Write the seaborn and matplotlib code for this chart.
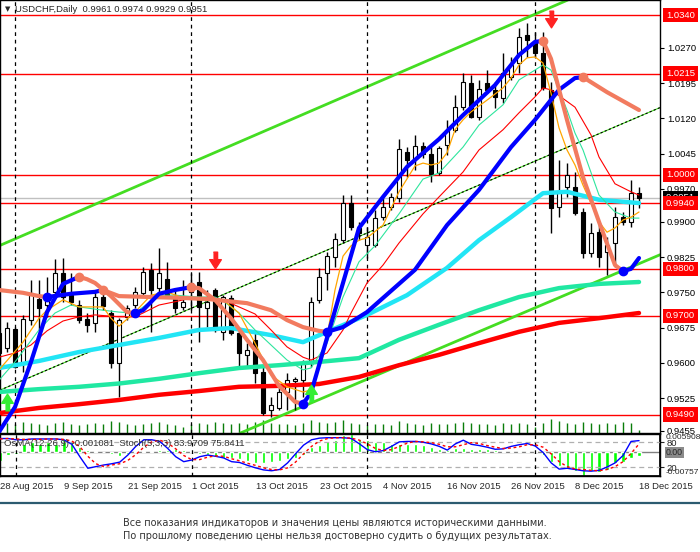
import matplotlib
matplotlib.use("Agg")
import matplotlib.pyplot as plt
import matplotlib.transforms as mtransforms
from matplotlib.lines import Line2D
import numpy as np
import pandas as pd
import seaborn as sns

# USDCHF daily candles, 28 Aug 2015 - 18 Dec 2015
dates = pd.bdate_range("2015-08-28", "2015-12-18")
opens = [0.9664, 0.9632, 0.9672, 0.9600, 0.9691, 0.9736, 0.9723, 0.9751, 0.9791, 0.9744,
         0.9723, 0.9693, 0.9685, 0.9740, 0.9706, 0.9600, 0.9698, 0.9723, 0.9749, 0.9798,
         0.9759, 0.9778, 0.9738, 0.9719, 0.9751, 0.9772, 0.9717, 0.9755, 0.9666, 0.9738,
         0.9664, 0.9617, 0.9649, 0.9581, 0.9500, 0.9504, 0.9538, 0.9561, 0.9563, 0.9600,
         0.9734, 0.9791, 0.9825, 0.9861, 0.9940, 0.9887, 0.9851, 0.9851, 0.9910, 0.9932,
         0.9951, 1.0049, 1.0034, 1.0061, 1.0044, 1.0004, 1.0064, 1.0096, 1.0144, 1.0196,
         1.0123, 1.0196, 1.0181, 1.0164, 1.0208, 1.0238, 1.0298, 1.0283, 1.0259, 1.0181,
         0.9932, 0.9974, 0.9974, 0.9921, 0.9834, 0.9878, 0.9836, 0.9855, 0.9910, 0.9900,
         0.9961]
highs = [0.9670, 0.9687, 0.9676, 0.9702, 0.9776, 0.9776, 0.9783, 0.9821, 0.9823, 0.9791,
         0.9734, 0.9706, 0.9751, 0.9751, 0.9712, 0.9695, 0.9723, 0.9761, 0.9804, 0.9812,
         0.9844, 0.9815, 0.9755, 0.9776, 0.9791, 0.9793, 0.9755, 0.9759, 0.9744, 0.9744,
         0.9670, 0.9642, 0.9664, 0.9591, 0.9527, 0.9549, 0.9578, 0.9570, 0.9606, 0.9740,
         0.9802, 0.9836, 0.9876, 0.9957, 0.9957, 0.9900, 0.9889, 0.9925, 0.9951, 0.9961,
         1.0076, 1.0059, 1.0085, 1.0070, 1.0059, 1.0061, 1.0117, 1.0170, 1.0217, 1.0213,
         1.0202, 1.0223, 1.0198, 1.0259, 1.0251, 1.0313, 1.0323, 1.0304, 1.0304, 1.0198,
         1.0032, 1.0025, 1.0006, 0.9930, 0.9898, 0.9900, 0.9868, 0.9932, 0.9921, 0.9989,
         0.9974]
lows = [0.9610, 0.9623, 0.9589, 0.9581, 0.9681, 0.9670, 0.9698, 0.9744, 0.9729, 0.9723,
        0.9685, 0.9666, 0.9666, 0.9712, 0.9589, 0.9527, 0.9691, 0.9717, 0.9744, 0.9666,
        0.9749, 0.9740, 0.9706, 0.9712, 0.9712, 0.9644, 0.9676, 0.9666, 0.9649, 0.9659,
        0.9591, 0.9591, 0.9557, 0.9489, 0.9485, 0.9500, 0.9500, 0.9500, 0.9527, 0.9591,
        0.9727, 0.9755, 0.9804, 0.9855, 0.9883, 0.9861, 0.9823, 0.9847, 0.9904, 0.9925,
        0.9942, 0.9995, 1.0010, 1.0036, 0.9985, 1.0000, 1.0042, 1.0091, 1.0138, 1.0121,
        1.0117, 1.0174, 1.0142, 1.0153, 1.0202, 1.0217, 1.0251, 1.0251, 1.0181, 0.9876,
        0.9910, 0.9953, 0.9915, 0.9823, 0.9825, 0.9804, 0.9787, 0.9804, 0.9893, 0.9889,
        0.9929]
closes = [0.9621, 0.9674, 0.9591, 0.9693, 0.9749, 0.9717, 0.9744, 0.9791, 0.9740, 0.9729,
          0.9691, 0.9681, 0.9740, 0.9721, 0.9600, 0.9691, 0.9717, 0.9751, 0.9793, 0.9755,
          0.9791, 0.9744, 0.9717, 0.9729, 0.9770, 0.9719, 0.9729, 0.9670, 0.9740, 0.9664,
          0.9621, 0.9627, 0.9578, 0.9493, 0.9510, 0.9538, 0.9563, 0.9566, 0.9600, 0.9729,
          0.9783, 0.9827, 0.9864, 0.9940, 0.9889, 0.9876, 0.9868, 0.9908, 0.9932, 0.9953,
          1.0055, 1.0032, 1.0061, 1.0044, 1.0002, 1.0057, 1.0096, 1.0144, 1.0198, 1.0123,
          1.0183, 1.0181, 1.0166, 1.0217, 1.0234, 1.0293, 1.0287, 1.0259, 1.0185, 0.9930,
          0.9964, 1.0000, 0.9919, 0.9834, 0.9876, 0.9825, 0.9851, 0.9910, 0.9900, 0.9961,
          0.9951]
tick_volume = [7, 9, 8, 10, 9, 8, 7, 9, 10, 8, 7, 8, 9, 8, 11, 10, 8, 7, 8, 9,
               10, 8, 7, 6, 8, 9, 8, 10, 9, 8, 9, 8, 10, 12, 9, 8, 8, 7, 9, 12,
               10, 9, 10, 12, 9, 8, 7, 8, 8, 7, 11, 9, 8, 7, 9, 8, 8, 9, 10, 9,
               8, 8, 7, 9, 8, 9, 8, 6, 9, 13, 11, 9, 8, 10, 9, 8, 9, 8, 10, 9, 3]

# moving averages (bar index, price)
ma_slow_bars = [0, 5, 10, 15, 20, 25, 30, 35, 40, 45, 50, 55, 60, 65, 70, 75, 80]
ma_red_vals = [0.9493, 0.9504, 0.9512, 0.9521, 0.9532, 0.9540, 0.9549, 0.9551, 0.9555,
               0.9570, 0.9595, 0.9617, 0.9642, 0.9666, 0.9685, 0.9695, 0.9706]
ma_teal_vals = [0.9538, 0.9544, 0.9549, 0.9556, 0.9566, 0.9578, 0.9589, 0.9595, 0.9602,
                0.9610, 0.9649, 0.9681, 0.9712, 0.9740, 0.9759, 0.9768, 0.9772]
ma_cyan_bars = [0, 5, 10, 15, 20, 25, 29, 34, 38, 41, 46, 51, 56, 60, 64, 68, 71, 75, 80]
ma_cyan_vals = [0.9589, 0.9604, 0.9623, 0.9638, 0.9653, 0.9670, 0.9674, 0.9659, 0.9644,
                0.9666, 0.9702, 0.9744, 0.9802, 0.9861, 0.9910, 0.9961, 0.9964, 0.9947, 0.9940]
trend_a_bars = [0, 3, 5, 6, 9, 12, 13, 15, 19, 23, 26, 31, 34, 36, 38, 40, 41, 43, 46,
                52, 56, 60, 64, 67, 70, 72, 73, 76, 80]
trend_a_vals = [0.9755, 0.9749, 0.9742, 0.9740, 0.9747, 0.9751, 0.9755, 0.9742, 0.9740,
                0.9738, 0.9736, 0.9727, 0.9712, 0.9691, 0.9676, 0.9668, 0.9666, 0.9676,
                0.9708, 0.9798, 0.9893, 0.9968, 1.0059, 1.0117, 1.0181, 1.0206, 1.0208,
                1.0176, 1.0138]
trend_b_bars = [0, 2, 4, 6, 8, 10, 11, 12, 14, 16, 17, 18, 20, 22, 24, 25, 27, 29, 31,
                33, 35, 37, 38, 39, 41, 43, 45, 48, 51, 55, 58, 62, 65, 67, 68, 69, 71,
                73, 75, 77, 78, 79, 80]
trend_b_vals = [0.9453, 0.9506, 0.9602, 0.9708, 0.9768, 0.9783, 0.9778, 0.9770, 0.9742,
                0.9708, 0.9706, 0.9712, 0.9747, 0.9755, 0.9761, 0.9759, 0.9734, 0.9695,
                0.9649, 0.9606, 0.9551, 0.9517, 0.9513, 0.9536, 0.9653, 0.9770, 0.9887,
                0.9953, 1.0017, 1.0076, 1.0127, 1.0191, 1.0255, 1.0283, 1.0285, 1.0247,
                1.0117, 0.9995, 0.9900, 0.9808, 0.9795, 0.9800, 0.9823]
orange_bars = [0, 3, 5, 6, 8, 10, 13, 14, 15, 17, 19, 21, 23, 25, 28, 30, 32, 34, 36, 38,
               39, 40, 41, 42, 43, 44, 45, 46, 48, 50, 52, 53, 54, 55, 56, 57, 58, 59, 61,
               63, 64, 65, 66, 67, 68, 69, 70, 71, 72, 73, 74, 75, 76, 77, 78, 79, 80]
orange_vals = [0.9585, 0.9644, 0.9695, 0.9712, 0.9734, 0.9719, 0.9719, 0.9695, 0.9678,
               0.9708, 0.9744, 0.9751, 0.9738, 0.9734, 0.9734, 0.9706, 0.9642, 0.9574,
               0.9549, 0.9538, 0.9542, 0.9591, 0.9655, 0.9755, 0.9827, 0.9849, 0.9861,
               0.9866, 0.9893, 0.9964, 1.0019, 1.0025, 1.0021, 1.0025, 1.0047, 1.0096,
               1.0117, 1.0134, 1.0159, 1.0185, 1.0206, 1.0234, 1.0249, 1.0251, 1.0238,
               1.0174, 1.0100, 1.0053, 1.0021, 0.9978, 0.9940, 0.9900, 0.9878, 0.9887,
               0.9904, 0.9910, 0.9921]
green_bars = [0, 2, 5, 7, 9, 10, 13, 15, 17, 20, 22, 25, 27, 28, 30, 32, 34, 36, 38, 39,
              41, 43, 45, 47, 50, 53, 55, 58, 60, 63, 65, 67, 68, 69, 71, 72, 73, 75, 77,
              79, 80]
green_vals = [0.9563, 0.9602, 0.9670, 0.9706, 0.9723, 0.9719, 0.9712, 0.9708, 0.9706,
              0.9744, 0.9744, 0.9740, 0.9740, 0.9732, 0.9706, 0.9670, 0.9638, 0.9606,
              0.9585, 0.9589, 0.9642, 0.9740, 0.9815, 0.9849, 0.9917, 0.9991, 1.0004,
              1.0059, 1.0106, 1.0149, 1.0202, 1.0223, 1.0234, 1.0223, 1.0138, 1.0089,
              1.0053, 0.9957, 0.9921, 0.9908, 0.9908]
red_thin_bars = [0, 2, 4, 6, 8, 10, 12, 15, 17, 18, 20, 22, 24, 26, 28, 30, 32, 34, 36,
                 38, 39, 41, 43, 44, 46, 48, 50, 53, 55, 58, 60, 63, 65, 67, 68, 69, 72,
                 74, 75, 77, 79, 80]
red_thin_vals = [0.9612, 0.9621, 0.9638, 0.9668, 0.9689, 0.9698, 0.9702, 0.9698, 0.9698,
                 0.9706, 0.9723, 0.9730, 0.9738, 0.9738, 0.9734, 0.9719, 0.9704, 0.9670,
                 0.9634, 0.9612, 0.9606, 0.9621, 0.9670, 0.9706, 0.9770, 0.9808, 0.9855,
                 0.9917, 0.9953, 1.0006, 1.0053, 1.0096, 1.0132, 1.0166, 1.0185, 1.0181,
                 1.0144, 1.0085, 1.0038, 0.9981, 0.9964, 0.9957]

# trend lines, two anchors each (bar, price)
upper_channel = [(0, 0.9849), (70, 1.0364)]
lower_channel = [(30.5, 0.9453), (80, 0.9811)]
mid_trend = [(0, 0.9541), (80, 1.0124)]

levels = [1.0340, 1.0215, 1.0000, 0.9940, 0.9800, 0.9700, 0.9490]
price_ticks = [1.0270, 1.0195, 1.0120, 1.0045, 0.9970, 0.9900, 0.9825, 0.9750,
               0.9675, 0.9600, 0.9525, 0.9455]
last_price = 0.9951
month_starts = [2, 24, 46, 67]
sell_bars, sell_prices = [27, 69], [0.9819, 1.0332]
buy_bars, buy_prices = [1, 39], [0.9517, 0.9536]

# OsMA(12,26,9) and Stoch(5,3,3)
osma = [-0.00263, -0.00082, -0.00056, 0.00273, 0.00329, 0.00273, 0.00329, 0.00273, 0.00385, 0.00329,
        0.00165, 0.00089, 0.00056, 0.00016, -0.00066, -0.00109, -0.00056, 0.00056, 0.00056, 0.00056,
        0.00089, 0.00089, 0.00109, 0.00089, 0.00033, -0.00056, -0.00089, -0.00132, -0.00165, -0.00165,
        -0.00197, -0.00273, -0.00329, -0.00329, -0.00306, -0.00273, -0.00220, -0.00165, -0.00089, 0.00165,
        0.00240, 0.00352, 0.00385, 0.00560, 0.005908, 0.00438, 0.00385, 0.00329, 0.00329, 0.00273,
        0.00273, 0.00273, 0.00273, 0.00240, 0.00165, 0.00109, 0.00089, 0.00132, 0.00132, 0.00109,
        0.00109, 0.00109, 0.00089, 0.00056, 0.00056, 0.00056, 0.00056, 0.00033, -0.00089, -0.00306,
        -0.00438, -0.00526, -0.00602, -0.00757, -0.00602, -0.00635, -0.00550, -0.00329, -0.00306, -0.00165,
        -0.001081]
stoch_k = [89, 89, 86, 86, 88, 88, 88, 88, 86, 75, 45, 17, 21, 25, 28, 32, 49, 70, 86, 86,
           82, 65, 45, 33, 37, 45, 49, 46, 42, 33, 31, 24, 18, 13, 11, 14, 30, 52, 73, 86,
           90, 91, 91, 91, 89, 76, 62, 57, 60, 70, 81, 82, 82, 80, 76, 70, 61, 76, 85, 75,
           72, 68, 63, 64, 70, 74, 77, 71, 55, 30, 15, 17, 14, 11, 10, 12, 20, 30, 48, 82,
           83.9709]
stoch_d = [88, 89, 88, 87, 87, 87, 88, 88, 87, 83, 69, 46, 28, 21, 25, 28, 36, 50, 68, 81,
           85, 78, 64, 48, 38, 38, 44, 47, 46, 40, 35, 29, 24, 18, 14, 13, 18, 32, 52, 70,
           83, 89, 91, 91, 90, 85, 76, 65, 60, 62, 70, 78, 82, 81, 79, 75, 69, 69, 74, 79,
           77, 72, 68, 65, 66, 69, 74, 74, 68, 52, 33, 21, 15, 14, 12, 11, 14, 21, 33, 53,
           75.8411]

BLUE = "#0000ff"
SALMON = "#f27b5f"
W, H = 700, 552

sns.set_theme(style="white")
plt.rcParams["font.family"] = ["Liberation Sans", "DejaVu Sans"]
plt.rcParams["axes.edgecolor"] = "black"

fig = plt.figure(figsize=(W / 100, H / 100), dpi=100)
fig.patch.set_facecolor("white")


def px_axes(x0, y0, x1, y1):
    return fig.add_axes([x0 / W, 1 - y1 / H, (x1 - x0) / W, (y1 - y0) / H])


ax = px_axes(0, 0, 660, 433)
ind = px_axes(0, 434, 660, 476)
bars = np.arange(len(dates))

# ---- volume in the background
vol = ax.twinx()
vol.vlines(bars, 0, tick_volume, color="#0a7d0a", lw=1)
vol.set_ylim(0, max(tick_volume) * 433 / 14)
vol.axis("off")
vol.set_zorder(ax.get_zorder() - 1)
ax.patch.set_visible(False)

# ---- levels and trend lines
for lv in levels:
    ax.axhline(lv, color="#ff0000", lw=1, zorder=1)
ax.axhline(last_price, color="#c0c0c0", lw=1, zorder=1)
ax.axline(*upper_channel, color="#44dd22", lw=2, zorder=2)
ax.axline(*lower_channel, color="#44dd22", lw=2, zorder=2)
ax.axline(*mid_trend, color="#44dd22", lw=0.8, zorder=2)
ax.axline(*mid_trend, color="black", lw=0.8, ls=(0, (2, 2)), zorder=2)

# ---- candles
o, h, l, c = map(np.asarray, (opens, highs, lows, closes))
ax.vlines(bars, l, h, color="black", lw=1, zorder=3)
up = c >= o
ax.bar(bars, np.maximum(np.abs(c - o), 0.00004), bottom=np.minimum(o, c), width=0.62,
       color=np.where(up, "white", "black"), edgecolor="black", linewidth=0.8, zorder=3)

# ---- moving averages
for xs, ys, col, lw in [(ma_slow_bars, ma_red_vals, "#ff0000", 3.2),
                        (ma_slow_bars, ma_teal_vals, "#20e8a2", 3.2),
                        (ma_cyan_bars, ma_cyan_vals, "#22e5f5", 3.2),
                        (red_thin_bars, red_thin_vals, "#ff0000", 0.8),
                        (green_bars, green_vals, "#2ee59d", 0.8),
                        (orange_bars, orange_vals, "#ffa500", 0.9)]:
    sns.lineplot(x=xs, y=ys, ax=ax, color=col, linewidth=lw, zorder=4)


def trend_colored(bx, vals):
    bx, vals = np.asarray(bx), np.asarray(vals)
    rising = np.diff(vals) >= 0
    start = 0
    for i in range(1, len(rising) + 1):
        if i == len(rising) or rising[i] != rising[start]:
            ax.plot(bx[start:i + 1], vals[start:i + 1], color=BLUE if rising[start] else SALMON,
                    lw=3, solid_capstyle="round", zorder=5)
            start = i
    for i in range(1, len(rising)):
        if rising[i] != rising[i - 1]:
            ax.plot(bx[i], vals[i], "o", ms=6, color=BLUE if rising[i] else SALMON, zorder=6)


trend_colored(trend_a_bars, trend_a_vals)
trend_colored(trend_b_bars, trend_b_vals)

# ---- signal arrows
down_arrow = [(-0.25, 1.0), (0.25, 1.0), (0.25, 0.1), (0.7, 0.1), (0.0, -1.0), (-0.7, 0.1), (-0.25, 0.1)]
up_arrow = [(x, -y) for x, y in down_arrow]
ax.plot(sell_bars, sell_prices, ls="none", marker=down_arrow, ms=12, color="#ff2222", zorder=7)
ax.plot(buy_bars, buy_prices, ls="none", marker=up_arrow, ms=12, color="#33ee33", zorder=7)

ax.set_xlim(0.125, 82.625)
ax.set_ylim(0.94507, 1.03721)
ax.set_xticks([])
ax.yaxis.tick_right()
ax.set_yticks(price_ticks)
ax.set_yticklabels([f"{t:.4f}" for t in price_ticks])
ax.tick_params(axis="y", labelsize=6.8, length=3, width=0.8, pad=2, colors="black", right=True)
ax.set_xlabel("")
ax.set_ylabel("")

blend = mtransforms.blended_transform_factory(ax.transAxes, ax.transData)
ax.text(1 + 6 / 660, last_price, f"{last_price:.4f}", transform=blend, ha="left", va="center",
        color="white", fontsize=6.8, clip_on=False, zorder=9,
        bbox=dict(boxstyle="square,pad=0.3", fc="black", ec="none"))
for lv in levels:
    ax.text(1 + 6 / 660, lv, f"{lv:.4f}", transform=blend, ha="left", va="center",
            color="white", fontsize=6.8, clip_on=False, zorder=10,
            bbox=dict(boxstyle="square,pad=0.3", fc="#ff0000", ec="none"))

# ---- indicator window
osma_ax = ind.twinx()
osma_ax.bar(bars, osma, width=0.4, color="#00ff00", zorder=2)
osma_ax.axhline(0, color="#808080", lw=1, zorder=1)
osma_ax.set_ylim(-0.00757, 0.005908)
osma_ax.set_yticks([])
osma_ax.set_zorder(ind.get_zorder() - 1)
ind.patch.set_visible(False)
osma_ax.patch.set_facecolor("white")

for lvl in (80, 20):
    ind.axhline(lvl, color="#b0b0b0", lw=0.9, ls=(0, (4, 3)), zorder=1)
sns.lineplot(x=bars, y=stoch_k, ax=ind, color=BLUE, linewidth=1, zorder=3)
sns.lineplot(x=bars, y=stoch_d, ax=ind, color="#ff0000", linewidth=1, linestyle=(0, (2, 2)), zorder=3)
ind.set_xlim(0.125, 82.625)
ind.set_ylim(-1.7, 100)
ind.yaxis.tick_right()
ind.set_yticks([20, 80])
ind.set_yticklabels(["20", "80"])
ind.tick_params(axis="y", labelsize=6.8, length=3, width=0.8, pad=2, right=True)
ind.set_ylabel("")
osma_blend = mtransforms.blended_transform_factory(osma_ax.transAxes, osma_ax.transData)
osma_ax.text(1 + 6 / 660, 0.005908, "0.005908", transform=osma_blend, ha="left", va="top",
             fontsize=6.0, clip_on=False)
osma_ax.text(1 + 6 / 660, 0, "0.00", transform=osma_blend, ha="left", va="center", fontsize=6.3,
             clip_on=False, bbox=dict(boxstyle="square,pad=0.15", fc="#8a8a8a", ec="none"))
osma_ax.text(1 + 6 / 660, -0.00757, "-0.00757", transform=osma_blend, ha="left", va="bottom",
             fontsize=6.0, clip_on=False)
ind.text(4 / 660, 0.78, "OsMA(12,26,9) -0.001081  Stoch(5,3,3) 83.9709 75.8411",
         transform=ind.transAxes, fontsize=6.8, color="#333333", va="center", zorder=5)

tick_pos = bars[::8]
ind.set_xticks(tick_pos)
ind.set_xticklabels([f"{d.day} {d.strftime('%b %Y')}" for d in dates[::8]])
for lab in ind.get_xticklabels():
    lab.set_ha("left")
ind.tick_params(axis="x", labelsize=6.8, length=0, pad=4)
ind.set_xlabel("")

for a in (ax, ind):
    for b in month_starts:
        a.axvline(b, color="black", lw=0.9, ls=(0, (3, 3)), zorder=2)
    for s in a.spines.values():
        s.set_color("black")
        s.set_linewidth(1)

# ---- header and footer
fig.text(5 / W, 1 - 9 / H, "\u25bc", fontsize=5, va="center", family=["DejaVu Sans"])
fig.text(15 / W, 1 - 9 / H, "USDCHF,Daily  0.9961 0.9974 0.9929 0.9951", fontsize=6.8, va="center")
fig.add_artist(Line2D([0, 1], [1 - 502.5 / H] * 2, color="#2c5b70", lw=1.6))
fig.text(123 / W, 1 - 523 / H, "Все показания индикаторов и значения цены являются историческими данными.",
         fontsize=7, color="#333333", va="center", family=["DejaVu Sans"])
fig.text(123 / W, 1 - 536 / H, "По прошлому поведению цены нельзя достоверно судить о будущих результатах.",
         fontsize=7, color="#333333", va="center", family=["DejaVu Sans"])

fig.savefig("out.png", dpi=100, facecolor="white")
